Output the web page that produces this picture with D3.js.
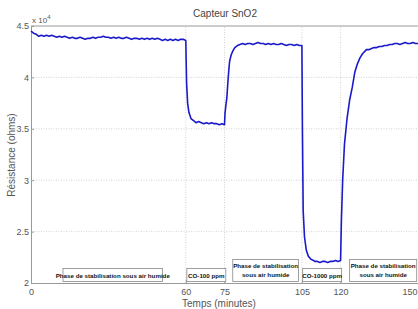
<!DOCTYPE html>
<html>
<head>
<meta charset="utf-8">
<script src="https://cdn.jsdelivr.net/npm/d3@7"></script>
<style>
body{margin:0;background:#fff;}
text{font-family:"Liberation Sans Narrow","Liberation Sans",Arial,sans-serif;}
</style>
</head>
<body>
<div id="chart"></div>
<script>
var width = 418,
height = 309,
marge = {haut:26, droite:0, bas:26, gauche:31};

// temps (minutes)
var temps = [0,1,2,3,4,5,6,7,8,9,10,11,12,13,14,15,16,17,18,19,20,21,22,23,24,25,26,27,28,29,
30,31,32,33,34,35,36,37,38,39,40,41,42,43,44,45,46,47,48,49,50,51,52,53,54,55,56,57,58,59,60,
60.3,60.7,61.2,62,63,64,65,66,67,68,69,70,71,72,73,74,75,
75.2,75.5,75.9,76.3,76.7,77,77.6,78.3,79,80,81,82,83,84,85,86,87,88,89,90,91,92,93,94,95,96,97,98,99,100,101,102,103,104,105,
105.2,105.5,106,106.7,107.5,108.5,109.5,110,111,112,113,114,115,116,117,118,119,120,
120.3,120.8,121.5,122.5,123.5,124.5,125.5,126.5,127.5,128.5,130,131,132,133,134,135,136,137,138,139,140,141,142,143,144,145,146,147,148,149,150];

// résistance (x 10^4 ohms)
var resistance = [4.45,4.43,4.42,4.40,4.41,4.40,4.41,4.40,4.41,4.40,4.39,4.40,4.39,4.40,4.39,4.38,4.39,4.38,4.38,4.39,4.38,4.37,4.38,4.38,4.39,4.38,4.39,4.39,4.40,4.39,
4.39,4.38,4.39,4.38,4.39,4.38,4.38,4.39,4.38,4.37,4.38,4.38,4.37,4.38,4.37,4.38,4.37,4.38,4.37,4.38,4.37,4.36,4.37,4.36,4.37,4.36,4.37,4.36,4.37,4.37,4.36,
3.95,3.75,3.66,3.60,3.58,3.56,3.57,3.56,3.55,3.56,3.55,3.56,3.55,3.55,3.54,3.55,3.54,
3.65,3.72,3.80,3.95,4.08,4.16,4.22,4.26,4.29,4.31,4.32,4.33,4.32,4.33,4.33,4.32,4.33,4.34,4.33,4.33,4.32,4.33,4.32,4.33,4.32,4.32,4.33,4.32,4.31,4.32,4.32,4.31,4.32,4.31,4.31,
3.50,2.70,2.45,2.32,2.26,2.23,2.22,2.21,2.21,2.20,2.21,2.21,2.20,2.21,2.21,2.22,2.21,2.22,
2.60,3.00,3.35,3.60,3.78,3.90,4.05,4.13,4.19,4.23,4.27,4.27,4.28,4.29,4.29,4.30,4.30,4.31,4.31,4.32,4.32,4.33,4.33,4.32,4.33,4.34,4.33,4.33,4.34,4.33,4.33];

var ticksX = [0,60,75,105,120,150];
var ticksY = [2,2.5,3,3.5,4,4.5];

// zones d'annotation : [debut, fin, ligne1, ligne2]
var phases = [
	[12.4, 51, "Phase de stabilisation sous air humide", ""],
	[60.4, 75.5, "CO-100 ppm", ""],
	[78.2, 103.7, "Phase de stabilisation", "sous air humide"],
	[105.3, 120.4, "CO-1000 ppm", ""],
	[123.5, 149.5, "Phase de stabilisation", "sous air humide"]
];

var svg = d3.select("#chart").append("svg")
	.attr("width",width)
	.attr("height",height);

var x = d3.scaleLinear().domain([0,150]).range([marge.gauche, width-marge.droite]);
var y = d3.scaleLinear().domain([2,4.5]).range([height-marge.bas, marge.haut]);

// grille
svg.selectAll(".gy").data(ticksY.slice(1,-1)).enter().append("line")
	.attr("x1",x(0)).attr("x2",x(150))
	.attr("y1",function(d){return y(d)}).attr("y2",function(d){return y(d)})
	.attr("stroke","#c8c8c8").attr("stroke-width",0.8).attr("stroke-dasharray","1,1.5");
svg.selectAll(".gx").data(ticksX.slice(1,-1)).enter().append("line")
	.attr("x1",function(d){return x(d)}).attr("x2",function(d){return x(d)})
	.attr("y1",y(2)).attr("y2",y(4.5))
	.attr("stroke","#c8c8c8").attr("stroke-width",0.8).attr("stroke-dasharray","1,1.5");

// cadre haut
svg.append("line").attr("x1",x(0)).attr("x2",x(150)).attr("y1",y(4.5)).attr("y2",y(4.5))
	.attr("stroke","#999").attr("stroke-width",1);

// axes
var axeX = svg.append("g").attr("transform","translate(0,"+y(2)+")")
	.call(d3.axisBottom(x).tickValues(ticksX).tickSize(-3).tickPadding(6).tickFormat(function(d){return String(d)}));
var axeY = svg.append("g").attr("transform","translate("+x(0)+",0)")
	.call(d3.axisLeft(y).tickValues(ticksY).tickSize(-3).tickPadding(2).tickFormat(function(d){return String(d)}));
[axeX,axeY].forEach(function(a){
	a.select(".domain").attr("stroke","#999");
	a.selectAll(".tick line").attr("stroke","#999");
	a.selectAll(".tick text").attr("fill","#555").attr("font-size",9);
});
// dernier label collé au bord droit
axeX.selectAll(".tick text").filter(function(d){return d==150}).attr("text-anchor","end").attr("dx",-1);

// exposant
var ex = svg.append("text").attr("x",x(0)+1).attr("y",y(4.5)-3).attr("fill","#555").attr("font-size",8);
ex.append("tspan").text("x 10");
ex.append("tspan").attr("dy",-4).attr("font-size",6).text("4");

// courbe
var points = d3.zip(temps,resistance);
svg.append("path").datum(points)
	.attr("fill","none")
	.attr("stroke","#1a1ac8")
	.attr("stroke-width",1.6)
	.attr("stroke-linejoin","round")
	.attr("d",d3.line().x(function(d){return x(d[0])}).y(function(d){return y(d[1])}));

// boites
var boites = svg.selectAll(".boite").data(phases).enter().append("g");
boites.append("rect")
	.attr("x",function(d){return x(d[0])})
	.attr("width",function(d){return x(d[1])-x(d[0])})
	.attr("y",function(d){return d[3]=="" ? 268.5 : 259.5})
	.attr("height",function(d){return d[3]=="" ? 13 : 22})
	.attr("fill","#fff").attr("stroke","#888").attr("stroke-width",0.8);
boites.append("text")
	.attr("x",function(d){return (x(d[0])+x(d[1]))/2})
	.attr("y",function(d){return d[3]=="" ? 277.5 : 268})
	.attr("text-anchor","middle").attr("font-size",6.2).attr("font-weight","bold").attr("fill","#111")
	.text(function(d){return d[2]});
boites.append("text")
	.attr("x",function(d){return (x(d[0])+x(d[1]))/2})
	.attr("y",277)
	.attr("text-anchor","middle").attr("font-size",6.2).attr("font-weight","bold").attr("fill","#111")
	.text(function(d){return d[3]});

// titres
svg.append("text").attr("x",225).attr("y",17).attr("text-anchor","middle")
	.attr("font-size",10).attr("fill","#444").text("Capteur SnO2");
svg.append("text").attr("x",219).attr("y",307).attr("text-anchor","middle")
	.attr("font-size",10).attr("fill","#555").text("Temps (minutes)");
svg.append("text").attr("transform","translate(15,155) rotate(-90)").attr("text-anchor","middle")
	.attr("font-size",10).attr("fill","#555").text("Résistance (ohms)");
</script>
</body>
</html>
